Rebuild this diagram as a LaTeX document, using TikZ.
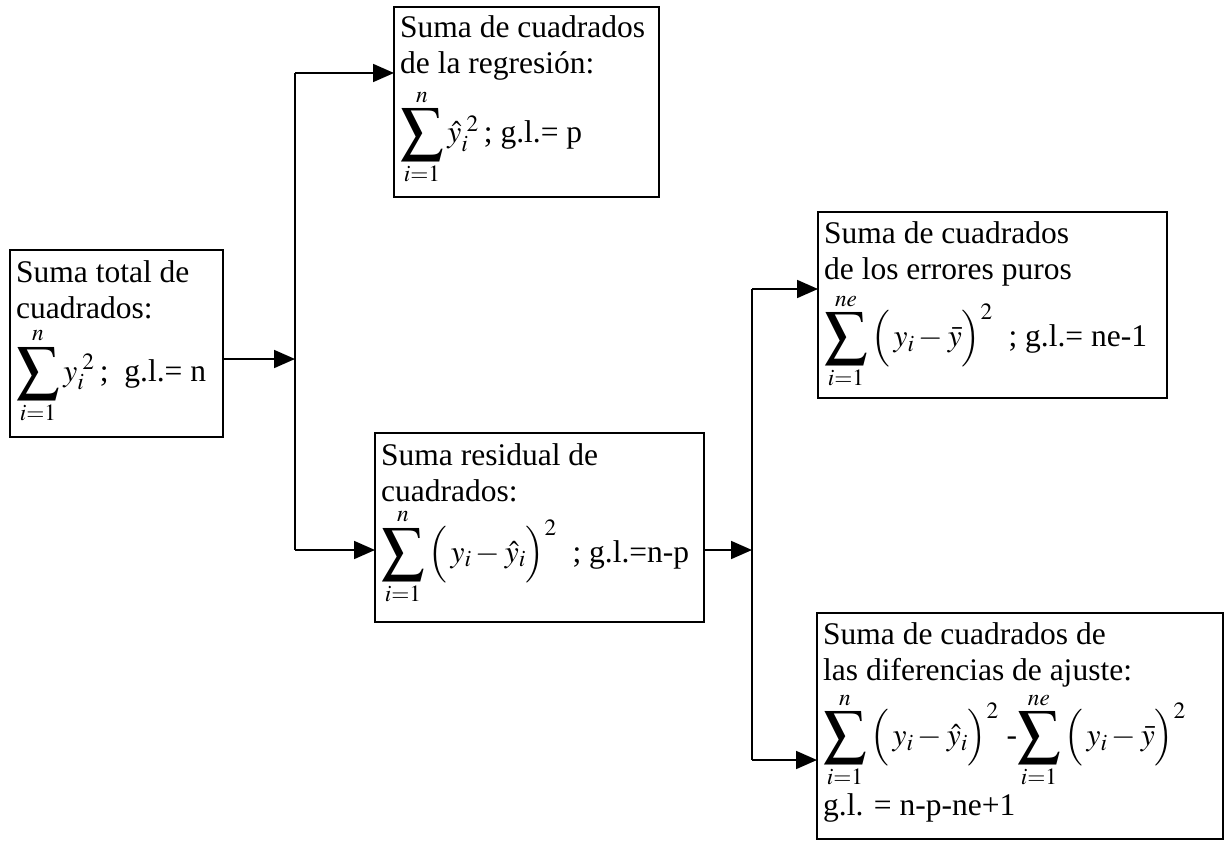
\documentclass[tikz,border=0pt]{standalone}
\usepackage{mathptmx}
\usepackage{fontspec}
\setmainfont{Liberation Serif}
\usetikzlibrary{arrows.meta}
\newcommand{\BigSum}{\mathop{\vcenter{\hbox{\scalebox{1.35}{$\displaystyle\sum$}}}}\limits}
\newcommand{\Par}[1]{\left(\rule[-14pt]{0pt}{46pt}\,#1\right)}
\tikzset{
  box/.style={draw, line width=1.6pt, anchor=north west, inner sep=0pt, outer sep=0pt},
  txt/.style={anchor=north west, inner sep=0pt, align=left, font=\fontsize{31.5}{36}\selectfont},
  conn/.style={line width=1.8pt},
  arr/.style={line width=1.8pt, -{Triangle[length=21pt,width=18pt]}}
}
\begin{document}
\begin{tikzpicture}[x=1pt,y=-1pt]
\useasboundingbox (0,0) rectangle (1225,842);
% boxes
\node[box, minimum width=213pt, minimum height=187pt] (b1) at (10,250) {};
\node[box, minimum width=265pt, minimum height=190pt] (b2) at (394,7) {};
\node[box, minimum width=329pt, minimum height=189pt] (b3) at (375,433) {};
\node[box, minimum width=349pt, minimum height=186pt] (b4) at (818,212) {};
\node[box, minimum width=406pt, minimum height=226pt] (b5) at (817,613) {};
% texts
\node[txt] (t1) at (16,260) {Suma total de\\cuadrados:\\[8pt]
  $\BigSum_{i=1}^{n} y_{i}^{\;2}$\,; \ g.l.= n};
\node[txt] (t2) at (400,15) {Suma de cuadrados\\de la regresión:\\[8pt]
  $\BigSum_{i=1}^{n} \hat{y}_{i}^{\;2}$\,; g.l.= p};
\node[txt] (t3) at (381,443) {Suma residual de\\cuadrados:\\[6pt]
  $\BigSum_{i=1}^{n}\Par{y_{i}-\hat{y}_{i}}^{2}$ \ ; g.l.=n-p};
\node[txt] (t4) at (824,221) {Suma de cuadrados\\de los errores puros\\[6pt]
  $\BigSum_{i=1}^{ne}\Par{y_{i}-\bar{y}}^{2}$ \ ; g.l.= ne-1};
\node[txt] (t5) at (823,622) {Suma de cuadrados de\\las diferencias de ajuste:\\[4pt]
  $\BigSum_{i=1}^{n}\Par{y_{i}-\hat{y}_{i}}^{2}$ -$\BigSum_{i=1}^{ne}\Par{y_{i}-\bar{y}}^{2}$\\[4pt]
  g.l. = n-p-ne+1};
% junctions
\coordinate (j1) at (295,359);
\coordinate (j1t) at (295,73);
\coordinate (j1b) at (295,550);
\coordinate (j2) at (752,550);
\coordinate (j2t) at (752,289);
\coordinate (j2b) at (752,760);
% connectors
\draw[arr] (b1.east |- j1) -- (j1);
\draw[conn] (j1t) -- (j1b);
\draw[arr] (j1t) -- (b2.west |- j1t);
\draw[arr] (j1b) -- (b3.west |- j1b);
\draw[arr] (b3.east |- j2) -- (j2);
\draw[conn] (j2t) -- (j2b);
\draw[arr] (j2t) -- (b4.west |- j2t);
\draw[arr] (j2b) -- (b5.west |- j2b);
\end{tikzpicture}
\end{document}
